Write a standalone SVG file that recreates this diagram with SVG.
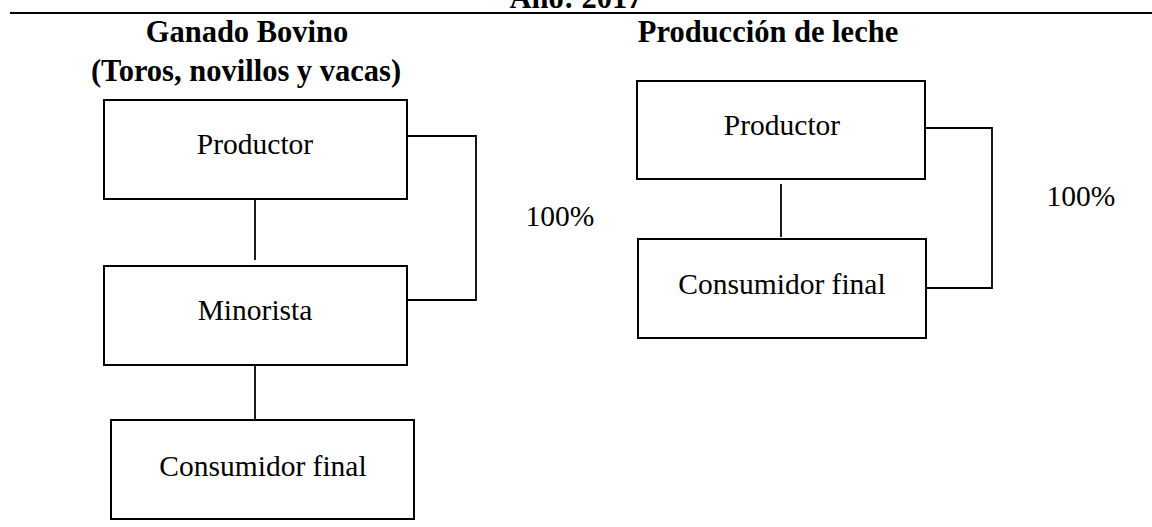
<svg xmlns="http://www.w3.org/2000/svg" width="1152" height="527" viewBox="0 0 1152 527">
<style>
.box{fill:#fff;stroke:#000;stroke-width:2}
.con{fill:none;stroke:#000;stroke-width:1.8}
.t{font-family:"Liberation Serif","Times New Roman",serif;font-size:29.5px;fill:#000;text-anchor:middle}
.h{font-family:"Liberation Serif","Times New Roman",serif;font-size:30.5px;font-weight:bold;fill:#000;text-anchor:middle}
</style>
<rect width="1152" height="527" fill="#fff"/>
<text class="h" x="576" y="8">Año: 2017</text>
<line x1="10" y1="13" x2="1152" y2="13" stroke="#000" stroke-width="2"/>
<text class="h" x="247" y="42">Ganado Bovino</text>
<text class="h" x="246" y="81">(Toros, novillos y vacas)</text>
<text class="h" x="768" y="42">Producción de leche</text>
<g id="connectors">
<line class="con" x1="255" y1="199" x2="255" y2="260"/>
<line class="con" x1="255" y1="365" x2="255" y2="420"/>
<path class="con" d="M407 136 H476 V300 H407"/>
<line class="con" x1="781" y1="184" x2="781" y2="237"/>
<path class="con" d="M925 128 H992 V288 H926"/>
</g>
<g id="n-productor-bovino"><rect class="box" x="104" y="100" width="303" height="99"/><text class="t" x="255" y="154">Productor</text></g>
<g id="n-minorista"><rect class="box" x="104" y="266" width="303" height="99"/><text class="t" x="255" y="320">Minorista</text></g>
<g id="n-consumidor-bovino"><rect class="box" x="111" y="420" width="303" height="99"/><text class="t" x="263" y="476">Consumidor final</text></g>
<g id="n-productor-leche"><rect class="box" x="637" y="81" width="288" height="98"/><text class="t" x="782" y="135">Productor</text></g>
<g id="n-consumidor-leche"><rect class="box" x="638" y="239" width="288" height="99"/><text class="t" x="782" y="294">Consumidor final</text></g>
<text class="t" x="560" y="226">100%</text>
<text class="t" x="1081" y="206">100%</text>
</svg>
